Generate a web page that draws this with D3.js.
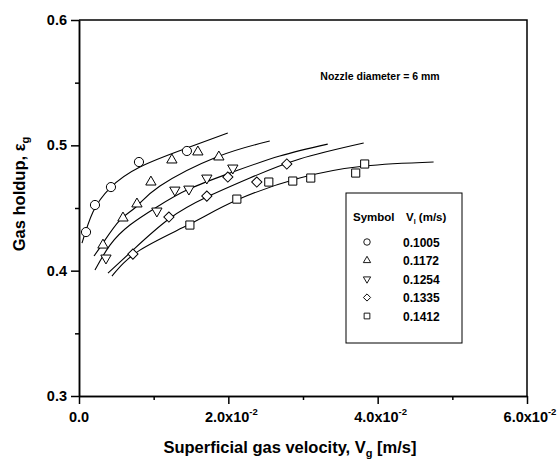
<!DOCTYPE html>
<html>
  <head>
    <meta charset="utf-8">
    <title>Gas holdup</title>
    <style>
    body { margin: 0; background: #fff; }
    svg text { font-family: Arial, "Liberation Sans", sans-serif; font-weight: bold; fill: #000; }
    .axis path, .axis line { stroke: #000; stroke-width: 1.5px; }
    </style>
  </head>
  <body>
    <svg width="559" height="460"></svg>
    <script src="https://d3js.org/d3.v7.min.js"></script>
    <script>

      // liquid velocities (legend) and symbols
      var seriesNames = ["0.1005", "0.1172", "0.1254", "0.1335", "0.1412"];
      var symbols = ["circle", "triangleUp", "triangleDown", "diamond", "square"];

      // measured points, [Vg (m/s), gas holdup]
      var circlePts = [[0.00094, 0.4308], [0.00214, 0.4524], [0.00428, 0.4667], [0.00803, 0.4867], [0.01445, 0.4955]];
      var triUpPts = [[0.00321, 0.4204], [0.00589, 0.4420], [0.00776, 0.4532], [0.00963, 0.4707],
                      [0.01244, 0.4883], [0.01592, 0.4947], [0.01873, 0.4907]];
      var triDownPts = [[0.00361, 0.4101], [0.01043, 0.4476], [0.01284, 0.4643], [0.01472, 0.4651],
                        [0.01712, 0.4739], [0.0206, 0.4819]];
      var diamondPts = [[0.00722, 0.4132], [0.01204, 0.4428], [0.01712, 0.4595], [0.01993, 0.4747],
                        [0.02381, 0.4707], [0.02783, 0.4851]];
      var squarePts = [[0.01485, 0.4364], [0.02114, 0.4571], [0.02542, 0.4707], [0.02863, 0.4715],
                       [0.03104, 0.4739], [0.03706, 0.4779], [0.03826, 0.4851]];

      // fitted curves
      var fit1 = [[0.0004, 0.422], [0.00187, 0.4468], [0.00415, 0.4659], [0.00816, 0.4827], [0.01445, 0.4978], [0.01993, 0.5098]];
      var fit2 = [[0.00201, 0.4117], [0.00321, 0.422], [0.00548, 0.4404], [0.00763, 0.4508], [0.01084, 0.4675],
                  [0.01846, 0.4907], [0.02555, 0.5034]];
      var fit3 = [[0.00214, 0.4005], [0.00415, 0.4204], [0.00682, 0.4364], [0.01043, 0.4508], [0.01472, 0.4651],
                  [0.0206, 0.4787], [0.02689, 0.4915], [0.03331, 0.501]];
      var fit4 = [[0.00388, 0.3981], [0.00722, 0.4164], [0.01204, 0.4412], [0.01712, 0.4587], [0.02288, 0.4739],
                  [0.02956, 0.4891], [0.03813, 0.5018]];
      var fit5 = [[0.00441, 0.3957], [0.00816, 0.4164], [0.01485, 0.4372], [0.02114, 0.4563], [0.02956, 0.4739],
                  [0.03826, 0.4835], [0.04749, 0.4867]];

      var xMajor = [0, 0.02, 0.04, 0.06], xMinor = [0.01, 0.03, 0.05];
      var yMajor = [0.3, 0.4, 0.5, 0.6], yMinor = [0.35, 0.45, 0.55];

      var points = [circlePts, triUpPts, triDownPts, diamondPts, squarePts];
      var fits = [fit1, fit2, fit3, fit4, fit5];

      var svg = d3.select("svg"),
          plot = {left: 79, right: 527, top: 20, bottom: 396};

      var x = d3.scaleLinear().domain([0, 0.06]).range([plot.left, plot.right]),
          y = d3.scaleLinear().domain([0.3, 0.6]).range([plot.bottom, plot.top]);

      // frame (top and right)
      svg.append("path")
          .attr("d", "M" + plot.left + "," + plot.top + "H" + plot.right + "V" + plot.bottom)
          .attr("fill", "none").attr("stroke", "#000").attr("stroke-width", 1.5);

      // axes
      svg.append("g").attr("class", "axis")
          .attr("transform", "translate(0," + plot.bottom + ")")
          .call(d3.axisBottom(x).tickValues(xMajor).tickSize(8).tickSizeOuter(0).tickFormat(""));
      svg.append("g").attr("class", "axis")
          .attr("transform", "translate(0," + plot.bottom + ")")
          .call(d3.axisBottom(x).tickValues(xMinor).tickSize(4).tickSizeOuter(0).tickFormat(""));
      svg.append("g").attr("class", "axis")
          .attr("transform", "translate(" + plot.left + ",0)")
          .call(d3.axisLeft(y).tickValues(yMajor).tickSize(8).tickSizeOuter(0).tickFormat(""));
      svg.append("g").attr("class", "axis")
          .attr("transform", "translate(" + plot.left + ",0)")
          .call(d3.axisLeft(y).tickValues(yMinor).tickSize(4).tickSizeOuter(0).tickFormat(""));

      // tick labels
      svg.selectAll(".ylab").data(yMajor).enter().append("text")
          .attr("x", 67).attr("y", function(d) { return y(d) + 5; })
          .attr("text-anchor", "end").style("font-size", "14.5px")
          .text(function(d) { return d.toFixed(1); });

      var xl = svg.selectAll(".xlab").data(xMajor).enter().append("text")
          .attr("x", function(d) { return x(d) + (d === 0 ? 0 : 3); }).attr("y", 422)
          .attr("text-anchor", "middle").style("font-size", "14.5px");
      xl.append("tspan").text(function(d) { return d === 0 ? "0.0" : (d * 100).toFixed(1) + "x10"; });
      xl.filter(function(d) { return d !== 0; }).append("tspan")
          .attr("dy", -7).style("font-size", "9.5px").text("-2");

      // axis titles
      var xt = svg.append("text").attr("x", 290).attr("y", 453).attr("text-anchor", "middle")
          .style("font-size", "16.5px");
      xt.append("tspan").text("Superficial gas velocity, V");
      xt.append("tspan").attr("dy", 4).style("font-size", "11px").text("g");
      xt.append("tspan").attr("dy", -4).text(" [m/s]");

      var yt = svg.append("text").attr("transform", "translate(25,194) rotate(-90)")
          .attr("text-anchor", "middle").style("font-size", "16.5px");
      yt.append("tspan").text("Gas holdup, ε");
      yt.append("tspan").attr("dy", 4).style("font-size", "11px").text("g");

      // annotation
      svg.append("text").attr("x", 380).attr("y", 80).attr("text-anchor", "middle")
          .style("font-size", "10.5px").text("Nozzle diameter = 6 mm");

      // marker shapes, sized by symbol area
      var areas = {circle: 66, triangleUp: 46, triangleDown: 46, diamond: 52, square: 66};
      function symPath(s, a) {
        var type = s === "circle" ? d3.symbolCircle
                 : (s === "square" || s === "diamond") ? d3.symbolSquare
                 : d3.symbolTriangle;
        return d3.symbol().type(type).size(a)();
      }
      function symTransform(s, px, py) {
        var t = "translate(" + px + "," + py + ")";
        if (s === "triangleDown") t += " rotate(180)";
        if (s === "diamond") t += " rotate(45)";
        return t;
      }

      // fitted curves
      var line = d3.line()
          .x(function(d) { return x(d[0]); })
          .y(function(d) { return y(d[1]); })
          .curve(d3.curveNatural);

      svg.selectAll(".fit").data(fits).enter().append("path")
          .attr("d", line).attr("fill", "none").attr("stroke", "#000").attr("stroke-width", 1.1);

      // measured points
      points.forEach(function(pts, i) {
        svg.selectAll(".pt" + i).data(pts).enter().append("path")
            .attr("d", symPath(symbols[i], areas[symbols[i]]))
            .attr("transform", function(d) { return symTransform(symbols[i], x(d[0]), y(d[1])); })
            .attr("fill", "#fff").attr("stroke", "#000").attr("stroke-width", 1);
      });

      // legend
      var lg = svg.append("g");
      lg.append("rect").attr("x", 346).attr("y", 193).attr("width", 116).attr("height", 150)
          .attr("fill", "#fff").attr("stroke", "#000").attr("stroke-width", 1);
      lg.append("text").attr("x", 353).attr("y", 221).style("font-size", "11.5px").text("Symbol");
      var vh = lg.append("text").attr("x", 406).attr("y", 221).style("font-size", "11.5px");
      vh.append("tspan").text("V");
      vh.append("tspan").attr("dy", 3).style("font-size", "7px").text("l");
      vh.append("tspan").attr("dy", -3).text(" (m/s)");

      seriesNames.forEach(function(name, i) {
        var ry = 242 + i * 18.5;
        lg.append("path").attr("d", symPath(symbols[i], areas[symbols[i]] * 0.5))
            .attr("transform", symTransform(symbols[i], 367, ry))
            .attr("fill", "#fff").attr("stroke", "#000").attr("stroke-width", 0.9);
        lg.append("text").attr("x", 403).attr("y", ry + 4.5).style("font-size", "12px").text(name);
      });
  </script>
  </body>
</html>
